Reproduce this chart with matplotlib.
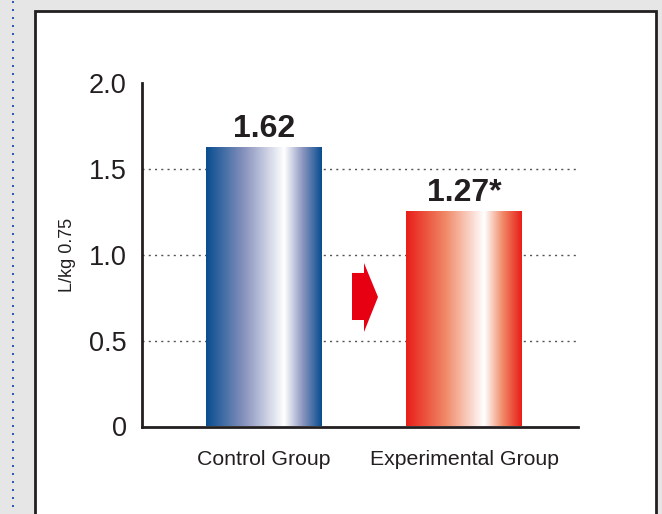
import numpy as np
import matplotlib
matplotlib.use("Agg")
import matplotlib.pyplot as plt
from matplotlib.patches import Rectangle, Polygon
from matplotlib.colors import LinearSegmentedColormap

plt.rcParams['font.family'] = ['Liberation Sans', 'DejaVu Sans']

# data
groups = ["Control Group", "Experimental Group"]
heights = [1.62, 1.25]
value_labels = ["1.62", "1.27*"]
bar_colors = [["#0a4e90", "#8b95bf", "#ffffff"],
              ["#e8201a", "#f08866", "#ffffff"]]
yticks = [0, 0.5, 1.0, 1.5, 2.0]
ytick_labels = ["0", "0.5", "1.0", "1.5", "2.0"]

fig = plt.figure(figsize=(6.62, 5.14), dpi=100)
fig.patch.set_facecolor("#e6e6e6")

# white panel with dark frame
W, H = 662, 514
panel = Rectangle((35 / W, -0.05), (656 - 35) / W, (514 - 11) / H + 0.05,
                  transform=fig.transFigure, facecolor="white",
                  edgecolor="#231f20", linewidth=2.0, zorder=-5)
fig.patches.append(panel)

# dotted blue line on the left (square dots every 8 px)
dot_y = (np.arange(8, H, 8) + 0.5) / H
fig.add_artist(plt.Line2D(np.full(len(dot_y), 12.5 / W), dot_y,
                          transform=fig.transFigure, linestyle="none",
                          marker="s", markersize=2.0, markeredgewidth=0,
                          markerfacecolor="#2a5ea8", zorder=-4))

ax = fig.add_axes([142 / W, (514 - 426.5) / H, 436 / W, 343.5 / H])
ax.set_zorder(2)
ax.set_facecolor("none")

width = 0.58
xs = np.arange(len(groups))
grad = np.concatenate([np.linspace(0, 1, 68), np.linspace(1, 0, 33)[1:]])
for x, h, cols, lab in zip(xs, heights, bar_colors, value_labels):
    cmap = LinearSegmentedColormap.from_list("g", cols)
    ax.imshow(grad[np.newaxis, :], cmap=cmap, aspect="auto",
              extent=[x - width / 2, x + width / 2, 0, h], zorder=2,
              interpolation="bilinear")
    ax.text(x, h + 0.025, lab, ha="center", va="bottom", fontsize=23,
            fontweight="bold", color="#231f20")
ax.set_xlim(-0.61, 1.57)
ax.set_ylim(0, 2.0)

for y in yticks[1:-1]:
    ax.axhline(y, color="#555555", linewidth=1.0, linestyle=(0, (1.5, 3)),
               zorder=1)

# red arrow between bars
arrow = Polygon([(0.44, 0.894), (0.50, 0.894), (0.50, 0.952), (0.57, 0.754),
                 (0.50, 0.55), (0.50, 0.62), (0.44, 0.62)],
                closed=True, facecolor="#e60012", edgecolor="none", zorder=3)
ax.add_patch(arrow)

for s in ["top", "right"]:
    ax.spines[s].set_visible(False)
for s in ["left", "bottom"]:
    ax.spines[s].set_color("#231f20")
    ax.spines[s].set_linewidth(2.0)

ax.set_yticks(yticks)
ax.set_yticklabels(ytick_labels, fontsize=19.5, color="#231f20")
ax.set_xticks(xs)
ax.set_xticklabels(groups, fontsize=15.3, color="#231f20")
ax.tick_params(axis="y", length=0, pad=11)
ax.tick_params(axis="x", length=0, pad=17)
ax.set_ylabel("L/kg 0.75", fontsize=13, color="#231f20", labelpad=9)

fig.savefig("out.png", dpi=100, facecolor=fig.get_facecolor())
